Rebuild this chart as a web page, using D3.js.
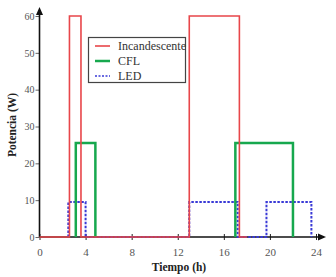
<!DOCTYPE html>
<html><head><meta charset="utf-8">
<script src="https://cdn.jsdelivr.net/npm/d3@7"></script>
<style>body{margin:0;background:#fff}svg{display:block}</style>
</head><body>
<script>
const xTicks = [0, 4, 8, 12, 16, 20, 24];
const yTicks = [0, 10, 20, 30, 40, 50, 60];
const seriesNames = ["Incandescente", "CFL", "LED"];
// step points [hour, watts]; null = gap
const incandescente = [[0,0],[2.6,0],[2.6,60],[3.6,60],[3.6,0],[13,0],[13,60],[17.35,60],[17.35,0],[18,0]];
const cfl = [[3.15,0],[3.15,25.5],[4.85,25.5],[4.85,0],null,[17,0],[17,25.5],[22,25.5],[22,0]];
const led = [[2.5,0],[2.5,9.5],[4,9.5],[4,0],[13,0],[13,9.5],[17.2,9.5],[17.2,0],[19.7,0],[19.7,9.5],[23.6,9.5],[23.6,0]];
const colors = ["#e8464a", "#17a84e", "#3a3ad6"];

const W = 336, H = 277;
const svg = d3.select("body").append("svg").attr("width", W).attr("height", H);
const x = d3.scaleLinear().domain([0, 24]).range([39.5, 316]);
const y = d3.scaleLinear().domain([0, 60]).range([237, 16]);

// axes
const ax = svg.append("g").attr("transform", `translate(0,${y(0)})`)
  .call(d3.axisBottom(x).tickValues(xTicks).tickSize(3).tickSizeOuter(0));
ax.select(".domain").remove();
ax.selectAll(".tick line").attr("y1", -3).attr("stroke", "#222").attr("stroke-width", 1);
ax.selectAll(".tick text").attr("dy", 0).attr("y", 19).attr("font-family", "Liberation Serif").attr("font-size", 11).attr("fill", "#555");
const ay = svg.append("g").attr("transform", `translate(${x(0)},0)`)
  .call(d3.axisLeft(y).tickValues(yTicks).tickSize(4).tickSizeOuter(0));
ay.select(".domain").remove();
ay.selectAll(".tick line").attr("stroke", "#666");
ay.selectAll(".tick text").attr("x", -5).attr("font-family", "Liberation Serif").attr("font-size", 10).attr("fill", "#555");
ax.select(".tick text").attr("fill", "#555");

// axis lines with arrows
svg.append("line").attr("x1", x(0)).attr("x2", 324).attr("y1", y(0)).attr("y2", y(0)).attr("stroke", "#111").attr("stroke-width", 1.6);
svg.append("path").attr("d", `M326,${y(0)} L318,${y(0)-3.5} L318,${y(0)+3.5}Z`).attr("fill", "#111");
svg.append("line").attr("x1", x(0)).attr("x2", x(0)).attr("y1", y(0)).attr("y2", 10).attr("stroke", "#111").attr("stroke-width", 1.6);
svg.append("path").attr("d", `M${x(0)},7 L${x(0)-3.5},15 L${x(0)+3.5},15Z`).attr("fill", "#111");

const line = d3.line().defined(d => d !== null).x(d => x(d[0])).y(d => y(d[1]));
svg.append("path").datum(led).attr("d", line).attr("fill", "none").attr("stroke", colors[2]).attr("stroke-width", 2).attr("stroke-dasharray", "2.5,1.5");
svg.append("path").datum(cfl).attr("d", line).attr("fill", "none").attr("stroke", colors[1]).attr("stroke-width", 2.5);
svg.append("path").datum(incandescente).attr("d", line).attr("fill", "none").attr("stroke", colors[0]).attr("stroke-width", 1.6);

// legend
const lg = svg.append("g");
lg.append("rect").attr("x", 88.5).attr("y", 37.5).attr("width", 97).attr("height", 45).attr("fill", "#fff").attr("stroke", "#444").attr("stroke-width", 1.2);
seriesNames.forEach((n, i) => {
  const yy = 46 + i * 15;
  lg.append("line").attr("x1", 95).attr("x2", 110).attr("y1", yy).attr("y2", yy)
    .attr("stroke", colors[i]).attr("stroke-width", i === 1 ? 2.5 : (i === 2 ? 1.5 : 1.6))
    .attr("stroke-dasharray", i === 2 ? "2,1.5" : null);
  lg.append("text").attr("x", 118).attr("y", yy + 4).text(n)
    .attr("font-family", "Liberation Serif").attr("font-size", 12).attr("fill", "#333");
});

// titles
svg.append("text").attr("x", 179).attr("y", 271).attr("text-anchor", "middle")
  .attr("font-family", "Liberation Serif").attr("font-weight", "bold").attr("font-size", 11.5).attr("fill", "#222").text("Tiempo (h)");
svg.append("text").attr("transform", "translate(16,125) rotate(-90)").attr("text-anchor", "middle")
  .attr("font-family", "Liberation Serif").attr("font-weight", "bold").attr("font-size", 11.5).attr("fill", "#222").text("Potencia (W)");
</script>
</body></html>
